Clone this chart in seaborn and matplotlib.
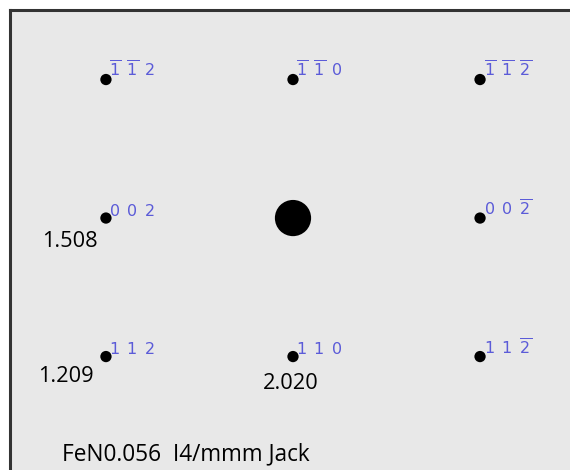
import matplotlib
matplotlib.use("Agg")
import matplotlib.pyplot as plt
import seaborn as sns
import pandas as pd

# reflections: Miller indices and lattice grid coordinates
h = [-1, -1, -1, 0, 0, 0, 1, 1, 1]
k = [-1, -1, -1, 0, 0, 0, 1, 1, 1]
l = [2, 0, -2, 2, 0, -2, 2, 0, -2]
grid_u = [-1, 0, 1, -1, 0, 1, -1, 0, 1]
grid_v = [1, 1, 1, 0, 0, 0, -1, -1, -1]
is_direct = [0, 0, 0, 0, 1, 0, 0, 0, 0]

# d-spacings (Angstrom) annotated on the pattern
d_hkl = ["002", "112", "110"]
d_values = [1.508, 1.209, 2.020]
caption = "FeN0.056  I4/mmm Jack"

df = pd.DataFrame({"h": h, "k": k, "l": l, "u": grid_u, "v": grid_v,
                   "beam": ["direct" if b else "diff" for b in is_direct]})

sns.set_style("white")
plt.rcParams["font.family"] = ["Open Sans", "DejaVu Sans"]

fig = plt.figure(figsize=(5.7, 4.7), dpi=100)
ax = fig.add_axes([10 / 570, 0, 560 / 570, 460 / 470])
ax.set_facecolor("#e8e8e8")

sns.scatterplot(data=df, x="u", y="v", size="beam",
                sizes={"diff": 66, "direct": 680}, color="black",
                edgecolor="none", legend=False, ax=ax, zorder=3)

ax.set_xlim(-1.513, 1.481)
ax.set_ylim(-1.819, 1.502)


def idx(n):
    return r"\overline{%d}" % abs(n) if n < 0 else "%d" % n


for _, r in df.iterrows():
    if r["beam"] == "direct":
        continue
    txt = "$" + r"\ \,".join(idx(n) for n in (r["h"], r["k"], r["l"])) + "$"
    ax.annotate(txt, (r["u"], r["v"]), xytext=(2.5, 1.5),
                textcoords="offset points", ha="left", va="baseline",
                fontsize=11.5, color="#5b5bd8")

offsets = {"002": (-46, -21), "112": (-49, -18.5), "110": (-22, -23.5)}
for hk, dv in zip(d_hkl, d_values):
    hh, kk, ll = int(hk[0]), int(hk[1]), int(hk[2])
    row = df[(df.h == hh) & (df.k == kk) & (df.l == ll)].iloc[0]
    ax.annotate(f"{dv:.3f}", (row["u"], row["v"]), xytext=offsets[hk],
                textcoords="offset points", ha="left", va="baseline",
                fontsize=15.7, color="black")

ax.text(52 / 560, 10 / 460, caption, transform=ax.transAxes,
        ha="left", va="baseline", fontsize=16.3, color="black")

ax.set_xticks([])
ax.set_yticks([])
ax.set_xlabel("")
ax.set_ylabel("")
for s in ["right", "bottom"]:
    ax.spines[s].set_visible(False)
for s in ["left", "top"]:
    ax.spines[s].set_visible(True)
    ax.spines[s].set_color("#333333")
    ax.spines[s].set_linewidth(2.2)

fig.savefig("out.png", dpi=100, facecolor="white")
